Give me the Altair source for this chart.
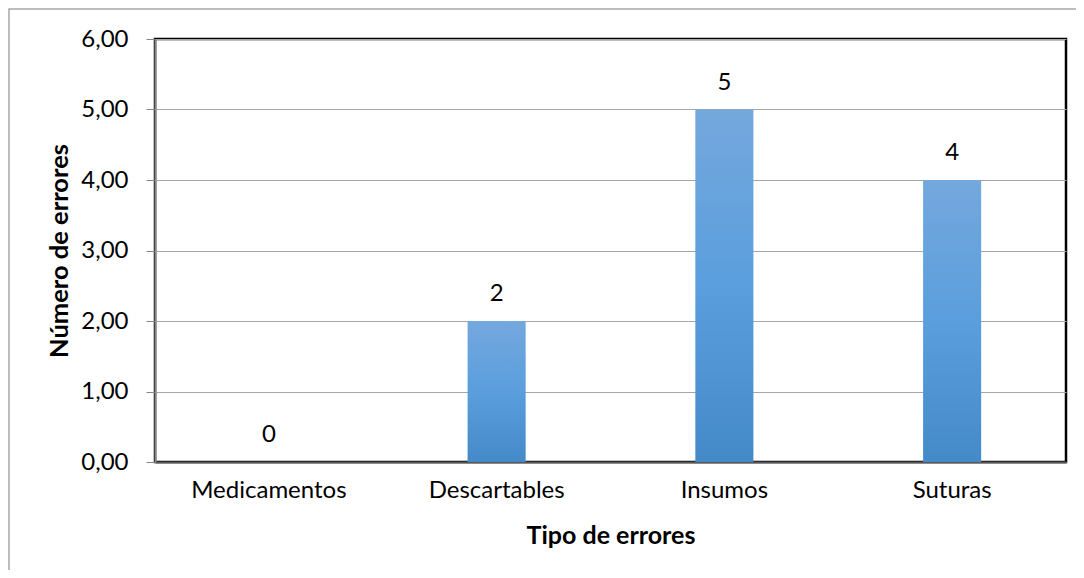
import altair as alt
import pandas as pd

categories = ["Medicamentos", "Descartables", "Insumos", "Suturas"]
values = [0, 2, 5, 4]

df = pd.DataFrame({"tipo": categories, "num": values})

FONT = "Lato"
PLOT_W = 911
PLOT_H = 423

x_enc = alt.X(
    "tipo:N",
    sort=categories,
    title="Tipo de errores",
    scale=alt.Scale(paddingInner=0.745, paddingOuter=0.3725),
    axis=alt.Axis(
        labelAngle=0,
        labelFont=FONT,
        labelFontSize=24,
        labelColor="#000000",
        labelPadding=16,
        ticks=False,
        domain=True,
        domainColor="#595959",
        domainWidth=2,
        titleFont=FONT,
        titleFontSize=25,
        titleFontWeight="bold",
        titleColor="#000000",
        titlePadding=21,
    ),
)

y_enc = alt.Y(
    "num:Q",
    title="Número de errores",
    scale=alt.Scale(domain=[0, 6]),
    axis=alt.Axis(
        values=[0, 1, 2, 3, 4, 5, 6],
        labelExpr="replace(format(datum.value, '.2f'), '.', ',')",
        labelFont=FONT,
        labelFontSize=24,
        labelColor="#000000",
        labelPadding=18,
        tickSize=9,
        tickColor="#868686",
        tickWidth=1,
        domain=True,
        domainColor="#868686",
        domainWidth=2,
        grid=True,
        gridColor="#A6A6A6",
        gridWidth=1,
        titleFont=FONT,
        titleFontSize=25.5,
        titleFontWeight="bold",
        titleColor="#000000",
        titlePadding=8,
    ),
)

bars = alt.Chart(df).mark_bar(
    color=alt.Gradient(
        gradient="linear",
        x1=0, x2=0, y1=0, y2=1,
        stops=[
            alt.GradientStop(color="#74A8DD", offset=0),
            alt.GradientStop(color="#5A9EDD", offset=0.5),
            alt.GradientStop(color="#458AC8", offset=1),
        ],
    )
).encode(x=x_enc, y=y_enc)

labels = alt.Chart(df).mark_text(
    font=FONT, fontSize=24, color="#000000", baseline="middle", dy=-27
).encode(x=alt.X("tipo:N", sort=categories), y="num:Q", text="num:Q")

frame = alt.Chart(alt.Data(values=[{"a": 1}])).mark_rect(
    fill=None, stroke="#A6A6A6", strokeWidth=1.5
).encode(
    x=alt.value(-146), x2=alt.value(1000),
    y=alt.value(-30), y2=alt.value(700),
)

chart = alt.layer(frame, bars, labels).properties(
    width=PLOT_W,
    height=PLOT_H,
    autosize=alt.AutoSizeParams(type="none"),
    padding={"left": 147, "top": 31, "right": 10, "bottom": 108},
    background="#FFFFFF",
).configure_view(
    stroke="#000000", strokeWidth=2.5
)

chart.save("out.html", embed_options={"renderer": "svg", "actions": False})
